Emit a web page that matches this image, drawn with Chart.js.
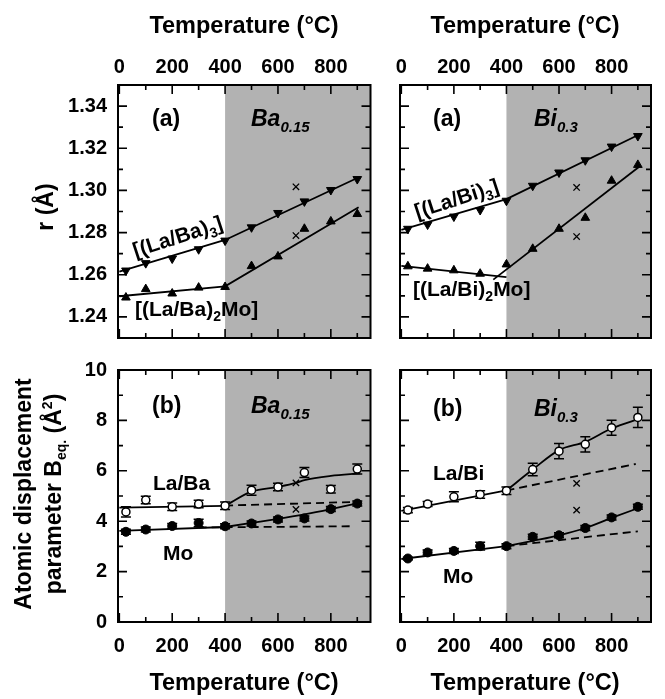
<!DOCTYPE html>
<html>
<head>
<meta charset="utf-8">
<script src="https://cdn.jsdelivr.net/npm/chart.js@4.4.1/dist/chart.umd.min.js"></script>
<style>
body{margin:0;background:#fff}
#wrap{position:relative;width:665px;height:699px;overflow:hidden}
#wrap canvas{position:absolute;left:0;top:0}
.t{position:absolute;font-family:"Liberation Sans",Arial,sans-serif;font-weight:bold;line-height:1;white-space:nowrap;color:#000;font-size:23px}
.h{font-size:23.5px}
.c{transform:translate(-50%,-50%)}
.v{transform:translate(-50%,-50%) rotate(-90deg)}
.r{transform:translate(-50%,-50%) rotate(-18deg);font-size:21px}
.m{font-size:21px}
.i{font-style:italic}
.s{font-size:15px;vertical-align:-6px}
.s2{font-size:14px;vertical-align:-5px}
</style>
</head>
<body>
<div id="wrap">
<canvas id="tl" width="665" height="699"></canvas>
<canvas id="tr" width="665" height="699"></canvas>
<canvas id="bl" width="665" height="699"></canvas>
<canvas id="br" width="665" height="699"></canvas>

<div class="t h c" style="left:244px;top:26px">Temperature (°C)</div>
<div class="t h c" style="left:525px;top:26px">Temperature (°C)</div>
<div class="t h c" style="left:244px;top:683px">Temperature (°C)</div>
<div class="t h c" style="left:525px;top:683px">Temperature (°C)</div>
<div class="t v" style="left:45px;top:207px">r (Å)</div>
<div class="t v" style="left:23px;top:494px">Atomic displacement</div>
<div class="t v" style="left:54px;top:494px">parameter B<span class="s2">eq.</span> (Å<sup style="font-size:14px">2</sup>)</div>

<div class="t" style="left:152px;top:107px">(a)</div>
<div class="t i" style="left:251px;top:107px">Ba<span class="s">0.15</span></div>
<div class="t" style="left:433px;top:107px">(a)</div>
<div class="t i" style="left:534px;top:107px">Bi<span class="s">0.3</span></div>
<div class="t" style="left:152px;top:394px">(b)</div>
<div class="t i" style="left:251px;top:394px">Ba<span class="s">0.15</span></div>
<div class="t" style="left:433px;top:397px">(b)</div>
<div class="t i" style="left:534px;top:397px">Bi<span class="s">0.3</span></div>

<div class="t r" style="left:178px;top:238px">[(La/Ba)<span class="s2">3</span>]</div>
<div class="t m" style="left:135px;top:298px">[(La/Ba)<span class="s2">2</span>Mo]</div>
<div class="t r" style="left:457px;top:200px">[(La/Bi)<span class="s2">3</span>]</div>
<div class="t m" style="left:413px;top:278px">[(La/Bi)<span class="s2">2</span>Mo]</div>
<div class="t m" style="left:153px;top:472px">La/Ba</div>
<div class="t m" style="left:163px;top:542px">Mo</div>
<div class="t m" style="left:433px;top:462px">La/Bi</div>
<div class="t m" style="left:443px;top:565px">Mo</div>
</div>

<script>
// temperatures of the measurements (°C)
const temps = [25, 100, 200, 300, 400, 500, 600, 700, 800, 900];
const tempTicks = [0, 200, 400, 600, 800];
const rTicks = [1.24, 1.26, 1.28, 1.30, 1.32, 1.34];
const bTicks = [0, 2, 4, 6, 8, 10];
const crossT = [668, 668];

// (a) Ba0.15 : r (Å)
const baR3 = [1.2620, 1.2655, 1.2677, 1.2721, 1.2762, 1.2825, 1.2893, 1.2948, 1.3002, 1.3054];
const baR2Mo = [1.2492, 1.2532, 1.2511, 1.2539, 1.2542, 1.2641, 1.2687, 1.2818, 1.2853, 1.2888];
const baRCross = [1.3017, 1.2786];
const baR3FitT = [0, 400, 910];
const baR3FitY = [1.2615, 1.2765, 1.3065];
const baR2MoFitT = [0, 400, 905];
const baR2MoFitY = [1.2498, 1.2545, 1.2920];

// (a) Bi0.3 : r (Å)
const biR3 = [1.2818, 1.2838, 1.2876, 1.2907, 1.2951, 1.3022, 1.3085, 1.3143, 1.3208, 1.3258];
const biR2Mo = [1.2640, 1.2629, 1.2621, 1.2605, 1.2649, 1.2723, 1.2818, 1.2870, 1.3046, 1.3121];
const biRCross = [1.3014, 1.2781];
const biR3FitT = [0, 400, 911];
const biR3FitY = [1.2813, 1.2959, 1.3269];
const biR2MoLowT = [0, 400];
const biR2MoLowY = [1.2642, 1.2589];
const biR2MoHighT = [350, 905];
const biR2MoHighY = [1.2577, 1.3112];

// (b) Ba0.15 : Beq (Å²)
const baLa = [4.37, 4.84, 4.57, 4.68, 4.61, 5.23, 5.36, 5.93, 5.27, 6.07];
const baLaErr = [0.2, 0.15, 0.15, 0.15, 0.15, 0.2, 0.15, 0.2, 0.15, 0.2];
const baMo = [3.58, 3.67, 3.81, 3.93, 3.80, 3.91, 4.07, 4.11, 4.48, 4.70];
const baMoErr = [0.1, 0.1, 0.1, 0.15, 0.1, 0.1, 0.1, 0.1, 0.1, 0.1];
const baBCross = [5.52, 4.47];
const baLaLinT = [0, 400];
const baLaLinY = [4.54, 4.61];
const baLaCurveT = [400, 500, 600, 668, 700, 800, 910];
const baLaCurveY = [4.61, 5.17, 5.36, 5.52, 5.63, 5.80, 5.90];
const baLaDashT = [400, 910];
const baLaDashY = [4.62, 4.77];
const baMoLinT = [0, 400];
const baMoLinY = [3.62, 3.77];
const baMoCurveT = [400, 500, 600, 700, 800, 910];
const baMoCurveY = [3.77, 3.93, 4.09, 4.27, 4.48, 4.73];
const baMoDashT = [300, 885];
const baMoDashY = [3.75, 3.80];

// (b) Bi0.3 : Beq (Å²)
const biLa = [4.44, 4.68, 4.97, 5.06, 5.21, 6.05, 6.78, 7.05, 7.71, 8.12];
const biLaErr = [0.1, 0.1, 0.2, 0.15, 0.15, 0.25, 0.3, 0.3, 0.3, 0.4];
const biMo = [2.52, 2.76, 2.82, 3.01, 3.01, 3.38, 3.44, 3.73, 4.15, 4.57];
const biMoErr = [0.05, 0.1, 0.1, 0.15, 0.1, 0.1, 0.1, 0.1, 0.1, 0.1];
const biBCross = [5.50, 4.44];
const biLaLinT = [0, 400];
const biLaLinY = [4.41, 5.22];
const biLaCurveT = [400, 500, 600, 700, 800, 910];
const biLaCurveY = [5.22, 6.05, 6.82, 7.15, 7.68, 8.08];
const biLaDashT = [400, 892];
const biLaDashY = [5.22, 6.27];
const biMoLinT = [0, 400];
const biMoLinY = [2.50, 3.01];
const biMoCurveT = [400, 500, 600, 700, 800, 915];
const biMoCurveY = [3.01, 3.22, 3.44, 3.73, 4.13, 4.57];
const biMoDashT = [400, 900];
const biMoDashY = [3.01, 3.60];

const FONT = '"Liberation Sans", Arial, sans-serif';
Chart.defaults.font.family = FONT;
Chart.defaults.font.weight = 'bold';
Chart.defaults.font.size = 20;
Chart.defaults.color = '#000';

function pts(xs, ys) {
  return xs.map((x, i) => ({x: x, y: ys[i]}));
}

// marker / line styles
function downTri(xs, ys) {
  return {data: pts(xs, ys), pointStyle: 'triangle', pointRotation: 180, pointRadius: 5,
    backgroundColor: '#000', borderColor: '#000', pointBorderWidth: 1};
}
function upTri(xs, ys) {
  return {data: pts(xs, ys), pointStyle: 'triangle', pointRotation: 0, pointRadius: 5,
    backgroundColor: '#000', borderColor: '#000', pointBorderWidth: 1};
}
function openCirc(xs, ys, err) {
  return {data: pts(xs, ys), err: err, pointStyle: 'circle', pointRadius: 4,
    backgroundColor: '#fff', borderColor: '#000', pointBorderWidth: 1.5};
}
function fullCirc(xs, ys, err) {
  return {data: pts(xs, ys), err: err, pointStyle: 'circle', pointRadius: 4.5,
    backgroundColor: '#000', borderColor: '#000', pointBorderWidth: 1};
}
function crosses(xs, ys) {
  return {data: pts(xs, ys), pointStyle: 'crossRot', pointRadius: 4.5,
    borderColor: '#000', pointBorderWidth: 1.3};
}
function line(xs, ys, dashed, curve) {
  return {data: pts(xs, ys), showLine: true, pointRadius: 0, borderColor: '#000',
    borderWidth: 1.8, borderDash: dashed ? [8, 5] : [],
    cubicInterpolationMode: curve ? 'monotone' : 'default'};
}

// shading, error bars, frame and inward ticks
const deco = {
  id: 'deco',
  beforeDatasetsDraw(chart) {
    const ctx = chart.ctx, a = chart.chartArea, x = chart.scales.x, y = chart.scales.y;
    const sx = x.getPixelForValue(400);
    ctx.save();
    ctx.fillStyle = '#b2b2b2';
    ctx.fillRect(sx, a.top, a.right - sx, a.bottom - a.top);
    ctx.strokeStyle = '#000';
    ctx.lineWidth = 1.5;
    chart.data.datasets.forEach(ds => {
      if (!ds.err) return;
      ds.data.forEach((d, i) => {
        const px = x.getPixelForValue(d.x);
        const y1 = y.getPixelForValue(d.y + ds.err[i]);
        const y2 = y.getPixelForValue(d.y - ds.err[i]);
        ctx.beginPath();
        ctx.moveTo(px, y1); ctx.lineTo(px, y2);
        ctx.moveTo(px - 5, y1); ctx.lineTo(px + 5, y1);
        ctx.moveTo(px - 5, y2); ctx.lineTo(px + 5, y2);
        ctx.stroke();
      });
    });
    ctx.restore();
  },
  afterDatasetsDraw(chart) {
    const ctx = chart.ctx, a = chart.chartArea, x = chart.scales.x, y = chart.scales.y;
    const o = chart.options.plugins.deco;
    ctx.save();
    ctx.strokeStyle = '#000';
    ctx.lineWidth = 1.6;
    ctx.beginPath();
    for (let i = 0; i <= 9; i++) {
      const px = x.getPixelForValue(i * 100);
      const len = i % 2 === 0 ? 9 : 5;
      ctx.moveTo(px, a.bottom); ctx.lineTo(px, a.bottom - len);
      ctx.moveTo(px, a.top); ctx.lineTo(px, a.top + len);
    }
    for (let i = 0; i <= o.yCount; i++) {
      const py = y.getPixelForValue(o.yStart + i * o.yStep);
      const len = i % 2 === 0 ? 9 : 5;
      ctx.moveTo(a.left, py); ctx.lineTo(a.left + len, py);
      ctx.moveTo(a.right, py); ctx.lineTo(a.right - len, py);
    }
    ctx.stroke();
    ctx.lineWidth = 2;
    ctx.strokeRect(a.left, a.top, a.right - a.left, a.bottom - a.top);
    ctx.restore();
  }
};

function panel(id, p) {
  const W = 665, H = 699;
  const top = p.xPos === 'top';
  const yw = p.showY ? 60 : 0;
  new Chart(document.getElementById(id), {
    type: 'scatter',
    data: {datasets: p.datasets},
    plugins: [deco],
    options: {
      responsive: false,
      animation: false,
      events: [],
      layout: {padding: {
        left: p.rect[0] - yw,
        top: top ? p.rect[1] - 30 : p.rect[1],
        right: W - p.rect[2],
        bottom: top ? H - p.rect[3] : H - p.rect[3] - 30
      }},
      plugins: {
        legend: {display: false},
        tooltip: {enabled: false},
        deco: {yStart: p.yStart, yStep: p.yStep, yCount: p.yCount}
      },
      scales: {
        x: {
          type: 'linear', position: p.xPos, min: -5, max: 950,
          grid: {display: false, drawTicks: false}, border: {display: false},
          ticks: {padding: top ? 6 : 12},
          afterBuildTicks: s => { s.ticks = tempTicks.map(v => ({value: v})); },
          afterFit: s => { s.height = 30; }
        },
        y: {
          type: 'linear', display: p.showY, min: p.yMin, max: p.yMax,
          grid: {display: false, drawTicks: false}, border: {display: false},
          ticks: {padding: 11, callback: p.fmt},
          afterBuildTicks: s => { s.ticks = p.yTicks.map(v => ({value: v})); },
          afterFit: s => { s.width = yw; }
        }
      }
    }
  });
}

const topY = {yMin: 1.23, yMax: 1.35, yTicks: rTicks, yStart: 1.24, yStep: 0.01, yCount: 10,
  fmt: v => v.toFixed(2)};
const botY = {yMin: 0, yMax: 10, yTicks: bTicks, yStart: 0, yStep: 1, yCount: 10,
  fmt: v => String(v)};

panel('tl', Object.assign({rect: [118, 85, 370.5, 338], xPos: 'top', showY: true, datasets: [
  downTri(temps, baR3), upTri(temps, baR2Mo), crosses(crossT, baRCross),
  line(baR3FitT, baR3FitY), line(baR2MoFitT, baR2MoFitY)
]}, topY));

panel('tr', Object.assign({rect: [400, 85, 651, 338], xPos: 'top', showY: false, datasets: [
  downTri(temps, biR3), upTri(temps, biR2Mo), crosses([667, 667], biRCross),
  line(biR3FitT, biR3FitY), line(biR2MoLowT, biR2MoLowY), line(biR2MoHighT, biR2MoHighY)
]}, topY));

panel('bl', Object.assign({rect: [118, 370, 370.5, 622], xPos: 'bottom', showY: true, datasets: [
  openCirc(temps, baLa, baLaErr), fullCirc(temps, baMo, baMoErr), crosses(crossT, baBCross),
  line(baLaLinT, baLaLinY), line(baLaCurveT, baLaCurveY, false, true), line(baLaDashT, baLaDashY, true),
  line(baMoLinT, baMoLinY), line(baMoCurveT, baMoCurveY, false, true), line(baMoDashT, baMoDashY, true)
]}, botY));

panel('br', Object.assign({rect: [400, 370, 651, 622], xPos: 'bottom', showY: false, datasets: [
  openCirc(temps, biLa, biLaErr), fullCirc(temps, biMo, biMoErr), crosses([667, 667], biBCross),
  line(biLaLinT, biLaLinY), line(biLaCurveT, biLaCurveY, false, true), line(biLaDashT, biLaDashY, true),
  line(biMoLinT, biMoLinY), line(biMoCurveT, biMoCurveY, false, true), line(biMoDashT, biMoDashY, true)
]}, botY));
</script>
</body>
</html>
